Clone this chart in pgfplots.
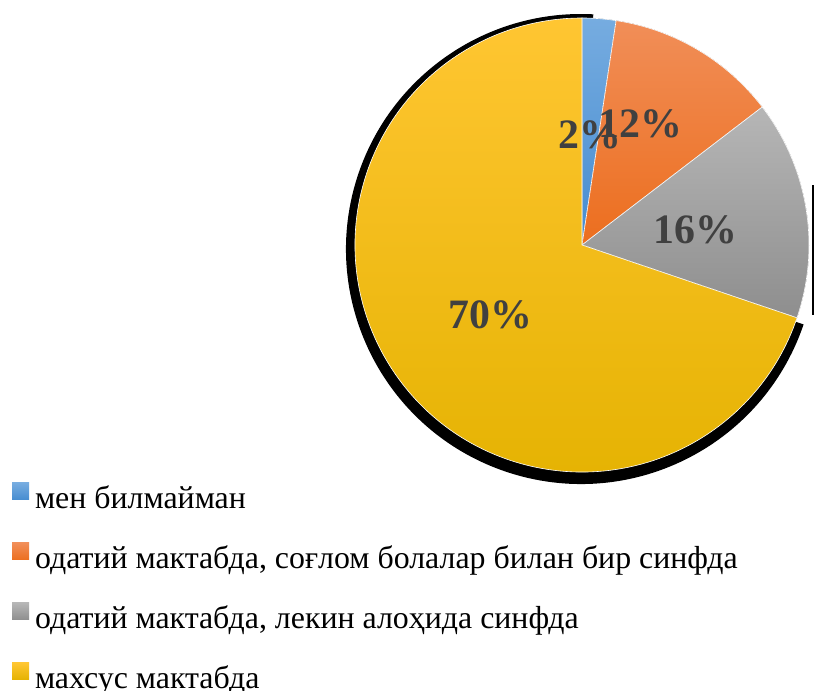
\documentclass[border=0pt]{standalone}
\usepackage{pgfplots}
\pgfplotsset{compat=1.18}
\usepackage{fontspec}
\setmainfont{Liberation Serif}

\definecolor{bluetop}{RGB}{118,172,224}
\definecolor{bluebot}{RGB}{70,140,208}
\definecolor{orgtop}{RGB}{241,142,88}
\definecolor{orgbot}{RGB}{236,110,30}
\definecolor{graytop}{RGB}{182,182,182}
\definecolor{graybot}{RGB}{142,142,142}
\definecolor{yeltop}{RGB}{255,198,50}
\definecolor{yelmid}{RGB}{255,192,0}
\definecolor{yelbot}{RGB}{228,178,0}
\definecolor{lbl}{RGB}{64,64,64}

\begin{document}
\begin{tikzpicture}
\begin{axis}[
  hide axis, scale only axis, width=815bp, height=691bp,
  xmin=0, xmax=815, ymin=0, ymax=691, clip=false,
  legend style={at={(axis cs:12,208)}, anchor=north west, draw=none, fill=none,
    inner sep=0pt, outer sep=0pt, row sep=34bp, column sep=6bp,
    font=\fontsize{32}{36}\selectfont,
    nodes={inner sep=0pt, text height=22bp, text depth=0bp}},
  legend cell align=left,
]
\path (axis cs:0,0) rectangle (axis cs:815,691);
% data: share of answers (percent)
\def\vA{2.4}\def\vB{12.2}\def\vC{15.6}\def\vD{69.8}
\def\cx{582}\def\cy{446}\def\r{227}
\pgfmathsetmacro{\aA}{90}
\pgfmathsetmacro{\aB}{\aA-3.6*\vA}
\pgfmathsetmacro{\aC}{\aB-3.6*\vB}
\pgfmathsetmacro{\aD}{\aC-3.6*\vC}
\pgfmathsetmacro{\aE}{\aD-3.6*\vD}
\pgfmathsetmacro{\xA}{\cx+\r*cos(\aA)}\pgfmathsetmacro{\yA}{\cy+\r*sin(\aA)}
\pgfmathsetmacro{\xB}{\cx+\r*cos(\aB)}\pgfmathsetmacro{\yB}{\cy+\r*sin(\aB)}
\pgfmathsetmacro{\xC}{\cx+\r*cos(\aC)}\pgfmathsetmacro{\yC}{\cy+\r*sin(\aC)}
\pgfmathsetmacro{\xD}{\cx+\r*cos(\aD)}\pgfmathsetmacro{\yD}{\cy+\r*sin(\aD)}
% shadow of the largest slice
\pgfmathsetmacro{\sS}{\aD}\pgfmathsetmacro{\sE}{\aE-3}
\pgfmathsetmacro{\xS}{581+235*cos(\sS)}\pgfmathsetmacro{\yS}{442+235*sin(\sS)}
\fill[overlay, black] (axis cs:581,442) -- (axis cs:\xS,\yS) arc[start angle=\sS, end angle=\sE, radius=235bp] -- cycle;
\fill[overlay, black] (axis cs:811.5,376) rectangle (axis cs:814,506);
% slices
\filldraw[overlay, draw=white, line width=0.6bp, top color=bluetop, bottom color=bluebot]
  (axis cs:\cx,\cy) -- (axis cs:\xA,\yA) arc[start angle=\aA, end angle=\aB, radius=\r bp] -- cycle;
\filldraw[overlay, draw=white, line width=0.6bp, top color=orgtop, bottom color=orgbot]
  (axis cs:\cx,\cy) -- (axis cs:\xB,\yB) arc[start angle=\aB, end angle=\aC, radius=\r bp] -- cycle;
\filldraw[overlay, draw=white, line width=0.6bp, top color=graytop, bottom color=graybot]
  (axis cs:\cx,\cy) -- (axis cs:\xC,\yC) arc[start angle=\aC, end angle=\aD, radius=\r bp] -- cycle;
\filldraw[overlay, draw=white, line width=0.6bp, top color=yeltop, middle color=yelmid, bottom color=yelbot]
  (axis cs:\cx,\cy) -- (axis cs:\xD,\yD) arc[start angle=\aD, end angle=\aE, radius=\r bp] -- cycle;
% labels
\begin{scope}[every node/.style={font=\fontsize{42}{42}\selectfont\bfseries, text=lbl, inner sep=0pt}]
\node at (axis cs:640,567) {12\%};
\node at (axis cs:590,556) {2\%};
\node at (axis cs:695,461) {16\%};
\node at (axis cs:490,376) {70\%};
\end{scope}
% legend
\addlegendimage{draw=none, legend image code/.code={\fill[draw=none, top color=bluetop, bottom color=bluebot] (0bp,-2bp) rectangle (17bp,15bp);}}
\addlegendentry{мен билмайман}
\addlegendimage{draw=none, legend image code/.code={\fill[draw=none, top color=orgtop, bottom color=orgbot] (0bp,-2bp) rectangle (17bp,15bp);}}
\addlegendentry{одатий мактабда, соғлом болалар билан бир синфда}
\addlegendimage{draw=none, legend image code/.code={\fill[draw=none, top color=graytop, bottom color=graybot] (0bp,-2bp) rectangle (17bp,15bp);}}
\addlegendentry{одатий мактабда, лекин алоҳида синфда}
\addlegendimage{draw=none, legend image code/.code={\fill[draw=none, top color=yeltop, bottom color=yelbot] (0bp,-2bp) rectangle (17bp,15bp);}}
\addlegendentry{махсус мактабда}
\end{axis}
\end{tikzpicture}
\end{document}
